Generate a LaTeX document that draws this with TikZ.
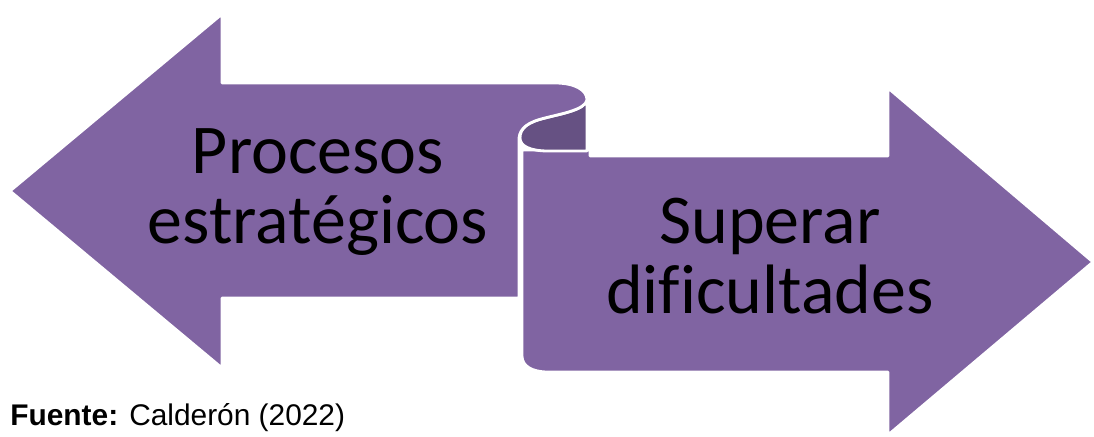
\documentclass[tikz,border=0pt]{standalone}
\usepackage{fontspec}
\setmainfont[Ligatures=NoCommon]{Carlito}
\newfontfamily\arialf{Liberation Sans}
\definecolor{rib}{HTML}{8064A2}
\definecolor{ribdark}{HTML}{665183}
\begin{document}
\begin{tikzpicture}[x=0.02cm,y=-0.02cm,
  band/.style={fill=rib, draw=white, line width=1.6pt, line join=round},
  backface/.style={fill=ribdark, draw=white, line width=1.6pt, line join=round},
  lbl/.style={font=\fontsize{39.8}{39.8}\selectfont, align=center, inner sep=0pt, text=black},
  src/.style={font=\arialf\fontsize{17}{20}\selectfont, inner sep=0pt, anchor=base west}]
\useasboundingbox (0,0) rectangle (1094,436);
% lower band: right arrow
\path[band] (522,150) -- (522,356) .. controls (522,366) and (532,372) .. (548,372)
  -- (888,372) -- (888,435) -- (1093,262) -- (888,88) -- (888,156) -- (590,156) -- (590,150) -- cycle;
% back face of the curl
\path[backface] (587,100) .. controls (585,110) and (560,114) .. (545,118)
  .. controls (528,122) and (520,128) .. (520,138)
  .. controls (520,146) and (530,151) .. (548,151) -- (587,151) -- cycle;
% upper band: left arrow
\path[band] (10,191) -- (222,14) -- (222,83) -- (555,83)
  .. controls (575,83) and (587,90) .. (587,100)
  .. controls (585,110) and (560,114) .. (545,118)
  .. controls (528,122) and (520,128) .. (519,138)
  -- (519,298) -- (222,298) -- (222,368) -- cycle;
\node[lbl, anchor=base] (left) at (318,243) {Procesos\\estratégicos};
\node[lbl, anchor=base] (right) at (770,313) {Superar\\dificultades};
\node[src] (source) at (10,425) {\textbf{Fuente:} Calderón (2022)};
\end{tikzpicture}
\end{document}
